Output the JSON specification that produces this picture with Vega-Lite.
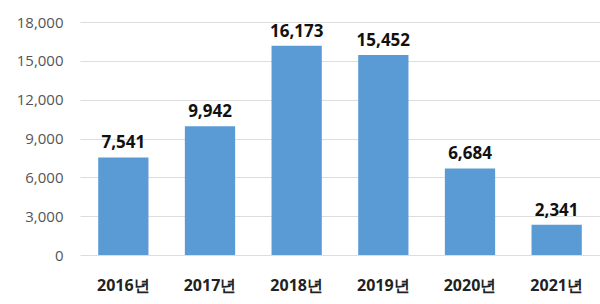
{
  "$schema": "https://vega.github.io/schema/vega-lite/v6.json",
  "width": 520,
  "height": 233,
  "autosize": {"type": "none"},
  "padding": {"left": 80, "top": 22, "right": 0, "bottom": 49},
  "background": "white",
  "config": {"view": {"stroke": null}, "font": "Open Sans"},
  "data": {"values": [
    {"year": "2016년", "count": 7541},
    {"year": "2017년", "count": 9942},
    {"year": "2018년", "count": 16173},
    {"year": "2019년", "count": 15452},
    {"year": "2020년", "count": 6684},
    {"year": "2021년", "count": 2341}
  ]},
  "encoding": {
    "x": {"field": "year", "type": "nominal", "sort": null,
      "scale": {"paddingInner": 0.42, "paddingOuter": 0.21},
      "axis": {"title": null, "labelAngle": 0, "domain": false, "ticks": false, "labelFontSize": 16, "labelColor": "#222222", "labelFontWeight": "bold", "labelPadding": 22, "labelFont": "Open Sans"}},
    "y": {"field": "count", "type": "quantitative",
      "scale": {"domain": [0, 18000], "nice": false},
      "axis": {"title": null, "values": [0, 3000, 6000, 9000, 12000, 15000, 18000], "format": ",d", "domain": false, "ticks": false, "labelFontSize": 15, "labelColor": "#555555", "labelPadding": 17, "gridColor": "#dddddd", "gridWidth": 1}}
  },
  "layer": [
    {"mark": {"type": "bar", "color": "#5b9bd5"}},
    {"mark": {"type": "text", "dy": -14, "fontSize": 17, "fontWeight": "bold", "color": "#111111"},
     "encoding": {"text": {"field": "count", "type": "quantitative", "format": ","}}}
  ]
}
